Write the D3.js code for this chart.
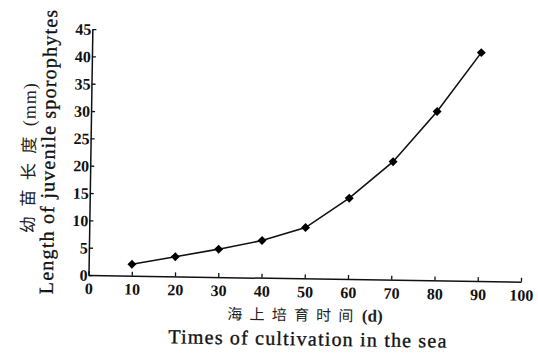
<!DOCTYPE html>
<html>
<head>
<meta charset="utf-8">
<script src="https://cdn.jsdelivr.net/npm/d3@7"></script>
<style>
  html, body { margin: 0; padding: 0; background: #fff; }
  svg { display: block; }
  .tick text { font-family: "Liberation Serif", "Times New Roman", serif; font-size: 16px; font-weight: bold; fill: #111; }
</style>
</head>
<body>
<div id="chart"></div>
<script>
// days at sea vs. juvenile sporophyte length (mm)
const days = [10, 20, 30, 40, 50, 60, 70, 80, 90];
const lengths = [2.1, 3.6, 5.1, 6.8, 9.3, 14.8, 21.6, 30.9, 41.8];
const xTicks = [0, 10, 20, 30, 40, 50, 60, 70, 80, 90, 100];
const yTicks = [0, 5, 10, 15, 20, 25, 30, 35, 40, 45];

const width = 538;
const height = 354;
const origin = { x: 88.5, y: 275 };

const svg = d3.select('#chart')
  .append('svg')
  .attr('width', width)
  .attr('height', height);

// the scanned figure is tilted a little, so turn the whole plot round the origin
const g = svg.append('g')
  .attr('transform', `rotate(0.9, ${origin.x}, ${origin.y})`);

const x = d3.scaleLinear()
  .domain([0, 100])
  .range([origin.x, 521]);

const y = d3.scaleLinear()
  .domain([0, 45])
  .range([origin.y, 29]);

const xAxis = g.append('g')
  .attr('transform', `translate(0,${origin.y})`)
  .call(d3.axisBottom(x).tickValues(xTicks).tickSizeInner(-4).tickSizeOuter(0));
xAxis.select('.domain').attr('stroke', '#111').attr('stroke-width', 1.5);
xAxis.selectAll('.tick line').attr('stroke', '#111').attr('stroke-width', 1.3);
xAxis.selectAll('.tick text').attr('y', 19).attr('dy', 0);

const yAxis = g.append('g')
  .attr('transform', `translate(${origin.x},0)`)
  .call(d3.axisLeft(y).tickValues(yTicks).tickSizeInner(-4).tickSizeOuter(0));
yAxis.select('.domain').attr('stroke', '#111').attr('stroke-width', 1.5);
yAxis.selectAll('.tick line').attr('stroke', '#111').attr('stroke-width', 1.3);
yAxis.selectAll('.tick text').attr('x', -1).attr('dy', '0.34em');

const pts = days.map((d, i) => [d, lengths[i]]);

g.append('path')
  .datum(pts)
  .attr('fill', 'none')
  .attr('stroke', '#111')
  .attr('stroke-width', 1.6)
  .attr('d', d3.line().x(d => x(d[0])).y(d => y(d[1])));

g.append('g')
  .selectAll('path')
  .data(pts)
  .join('path')
  .attr('transform', d => `translate(${x(d[0])},${y(d[1])}) rotate(45)`)
  .attr('d', d3.symbol().type(d3.symbolSquare).size(40))
  .attr('fill', '#000');

// axis titles (chinese part and unit set as separate texts)
g.append('text')
  .attr('x', 228)
  .attr('y', 317)
  .attr('font-family', '"Noto Sans CJK SC", sans-serif')
  .attr('font-size', 15)
  .attr('letter-spacing', 7.2)
  .attr('fill', '#222')
  .text('海上培育时间');

g.append('text')
  .attr('x', 362.5)
  .attr('y', 317)
  .attr('font-family', '"Liberation Serif", serif')
  .attr('font-weight', 'bold')
  .attr('font-size', 17)
  .attr('fill', '#222')
  .text('(d)');

g.append('text')
  .attr('x', 309)
  .attr('y', 342)
  .attr('text-anchor', 'middle')
  .attr('font-family', '"Liberation Serif", serif')
  .attr('font-size', 20)
  .attr('letter-spacing', 1.2)
  .attr('fill', '#111')
  .attr('stroke', '#111')
  .attr('stroke-width', 0.35)
  .text('Times of cultivation in the sea');

g.append('text')
  .attr('transform', 'translate(33,234) rotate(-90)')
  .attr('font-family', '"Noto Sans CJK SC", sans-serif')
  .attr('font-size', 17)
  .attr('letter-spacing', 9.5)
  .attr('fill', '#222')
  .text('幼苗长度');

g.append('text')
  .attr('transform', 'translate(33,127) rotate(-90)')
  .attr('font-family', '"Liberation Serif", serif')
  .attr('font-size', 18)
  .attr('letter-spacing', 1)
  .attr('fill', '#222')
  .text('(mm)');

g.append('text')
  .attr('transform', 'translate(53,152) rotate(-90)')
  .attr('text-anchor', 'middle')
  .attr('font-family', '"Liberation Serif", serif')
  .attr('font-size', 20)
  .attr('letter-spacing', 1.2)
  .attr('fill', '#111')
  .attr('stroke', '#111')
  .attr('stroke-width', 0.35)
  .text('Length of juvenile sporophytes');
</script>
</body>
</html>
